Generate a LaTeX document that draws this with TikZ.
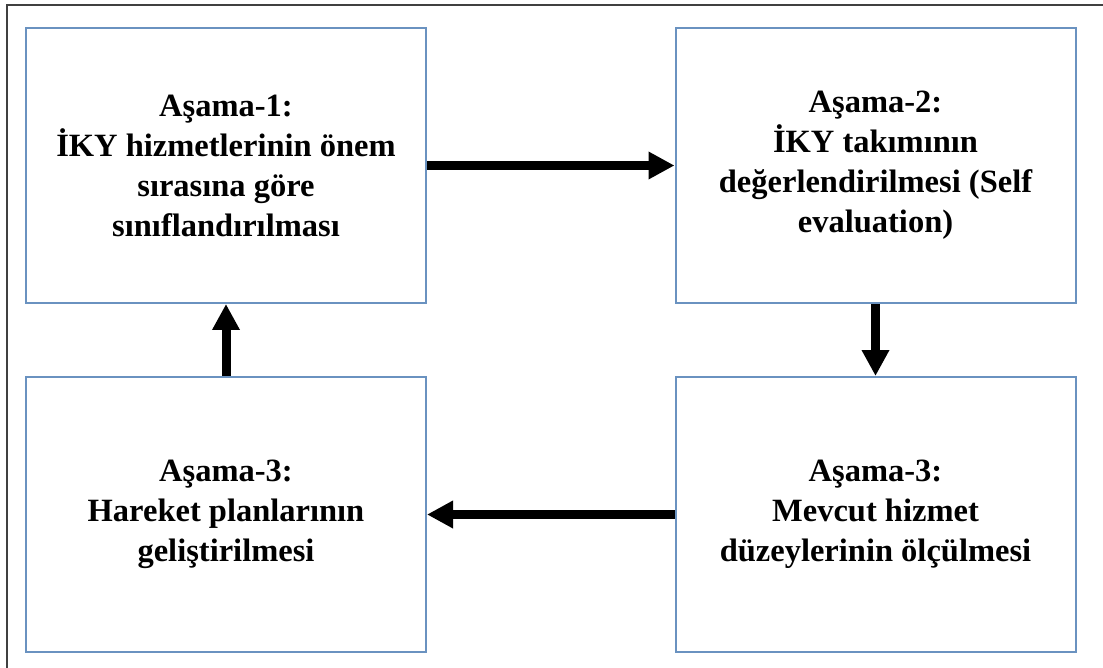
\documentclass[tikz,border=0pt]{standalone}
\usepackage{fontspec}
\setmainfont{Liberation Serif}
\usepackage{xcolor}
\usepackage{tikz}
\usetikzlibrary{arrows.meta}
\definecolor{KutuMavi}{HTML}{6A92C0}
\definecolor{CerceveGri}{HTML}{404040}

\tikzset{
  asama/.style = {draw = KutuMavi, line width = 2pt, fill = white,
    minimum width = 400pt, minimum height = 275pt, align = center,
    font = \fontsize{32.5}{40}\selectfont\bfseries},
  ok/.style = {-{Triangle[length = 26pt, width = 26pt]}, line width = 9pt}
}

\begin{document}
\begin{tikzpicture}[x = 1pt, y = -1pt]
  \useasboundingbox (0,0) rectangle (1103,668);

  \draw[line width = 2pt, CerceveGri] (7,690) -- (7,5) -- (1120,5);

  \node[asama] (a1) at (226,165.5) {Aşama-1:\\İKY hizmetlerinin önem\\sırasına göre\\sınıflandırılması};
  \node[asama] (a2) at (875.5,165.5) {Aşama-2:\\İKY takımının\\değerlendirilmesi (Self\\evaluation)};
  \node[asama] (a3) at (875.5,514.5) {Aşama-3:\\Mevcut hizmet\\düzeylerinin ölçülmesi};
  \node[asama] (a4) at (226,514.5) {Aşama-3:\\Hareket planlarının\\geliştirilmesi};

  \draw[ok] (a1.east) -- (a2.west);
  \draw[ok] (a2.south) -- (a3.north);
  \draw[ok] (a3.west) -- (a4.east);
  \draw[ok] (a4.north) -- (a1.south);
\end{tikzpicture}
\end{document}
